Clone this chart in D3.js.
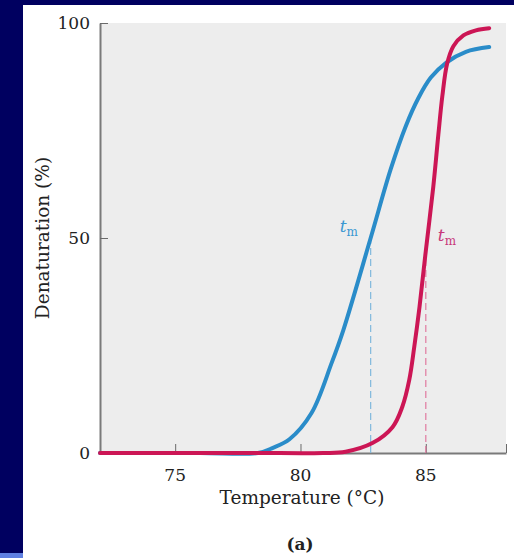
<!DOCTYPE html>
<html>
<head>
<meta charset="utf-8">
<script src="https://cdn.jsdelivr.net/npm/d3@7"></script>
<style>
  body { margin: 0; background: #000060; }
  svg { display: block; }
</style>
</head>
<body>
<div class="main"></div>
<script>
// temperature (°C) and denaturation (%)
var blueTemp = [72, 76, 78.3, 78.9, 79.56, 80.44, 81.24, 81.71, 82.8, 83.6, 84.2, 84.7, 85.2, 85.82, 86.6, 87.53];
var blueDen  = [0, 0, 0, 1.2, 3.2, 9.3, 20.9, 28.6, 50, 66, 76, 82.5, 87.3, 90.8, 93.3, 94.4];

var redTemp = [72, 78, 80.9, 81.8, 82.87, 83.67, 84.06, 84.34, 84.54, 84.75, 85.0, 85.3, 85.5, 85.66, 85.85, 86.1, 86.5, 87.0, 87.53];
var redDen  = [0, 0, 0, 0.3, 2.3, 6, 10.7, 17, 24.7, 34, 47, 62, 74, 83, 90.5, 94.6, 97.1, 98.3, 98.8];

var xTicks = [75, 80, 85];
var yTicks = [0, 50, 100];
var tmTemps = [82.8, 85.0];   // melting points (dashed lines)
var tmDen = [50, 48];

var W = 514, H = 558;
var blue = '#2a8cc9', red = '#cc1655';

var svg = d3.select('.main')
    .append('svg')
    .attr('width', W)
    .attr('height', H);

svg.append('rect').attr('x', 0).attr('y', 0).attr('width', W).attr('height', H).style('fill', '#000060');
svg.append('rect').attr('x', 0).attr('y', 553).attr('width', 23).attr('height', 5).style('fill', '#5f80e2');
svg.append('rect').attr('x', 23).attr('y', 5).attr('width', W - 23).attr('height', H - 5).style('fill', '#ffffff');

var x = d3.scaleLinear().domain([72, 88.2]).range([100, 506]);
var y = d3.scaleLinear().domain([0, 100]).range([453, 23]);

// plot background
svg.append('rect')
    .attr('x', x(72)).attr('y', y(100))
    .attr('width', x(88.2) - x(72)).attr('height', y(0) - y(100))
    .style('fill', '#ededed');

var serif = '"DejaVu Serif", "Liberation Serif", serif';

// axes
var g = svg.append('g');
var xAxis = d3.axisBottom(x).tickValues(xTicks.concat([88.2])).tickSize(-9).tickFormat('').tickSizeOuter(0);
g.append('g').attr('transform', 'translate(0,' + y(0) + ')').call(xAxis);
var yAxis = d3.axisLeft(y).tickValues(yTicks).tickSize(-8).tickFormat('').tickSizeOuter(0);
g.append('g').attr('transform', 'translate(' + x(72) + ',0)').call(yAxis);
g.selectAll('.domain').style('stroke', '#7a7a7a').style('stroke-width', 2);
g.selectAll('.tick line').style('stroke', '#6a6a6a').style('stroke-width', 1);

svg.selectAll('.xlab')
    .data(xTicks)
    .enter()
    .append('text')
    .attr('class', 'xlab')
    .attr('x', function (d) { return x(d); })
    .attr('y', 481)
    .attr('text-anchor', 'middle')
    .style('font-family', serif)
    .style('font-size', '17px')
    .style('fill', '#222')
    .text(function (d) { return d; });

svg.selectAll('.ylab')
    .data(yTicks)
    .enter()
    .append('text')
    .attr('class', 'ylab')
    .attr('x', 90)
    .attr('y', function (d) { return y(d) + 6; })
    .attr('text-anchor', 'end')
    .style('font-family', serif)
    .style('font-size', '17px')
    .style('fill', '#222')
    .text(function (d) { return d; });

svg.append('text')
    .attr('x', 302)
    .attr('y', 504)
    .attr('text-anchor', 'middle')
    .style('font-family', serif)
    .style('font-size', '18.5px')
    .style('fill', '#222')
    .text('Temperature (°C)');

svg.append('text')
    .attr('transform', 'translate(49,238) rotate(-90)')
    .attr('text-anchor', 'middle')
    .style('font-family', serif)
    .style('font-size', '18.5px')
    .style('fill', '#222')
    .text('Denaturation (%)');

svg.append('text')
    .attr('x', 300)
    .attr('y', 550)
    .attr('text-anchor', 'middle')
    .style('font-family', serif)
    .style('font-size', '17px')
    .style('font-weight', 'bold')
    .style('fill', '#222')
    .text('(a)');

// dashed tm lines
var dashCol = ['#7fb8dc', '#e07aa0'];
svg.selectAll('.tm')
    .data(tmTemps)
    .enter()
    .append('line')
    .attr('class', 'tm')
    .attr('x1', function (d) { return x(d); })
    .attr('x2', function (d) { return x(d); })
    .attr('y1', y(0))
    .attr('y2', function (d, i) { return y(tmDen[i]); })
    .style('stroke', function (d, i) { return dashCol[i]; })
    .style('stroke-width', 1.2)
    .style('stroke-dasharray', '7,4');

// curves
var line = d3.line()
    .x(function (d) { return x(d[0]); })
    .y(function (d) { return y(d[1]); })
    .curve(d3.curveCatmullRom.alpha(0.5));

var blueData = d3.zip(blueTemp, blueDen);
var redData = d3.zip(redTemp, redDen);

svg.append('path')
    .attr('d', line(blueData))
    .style('fill', 'none')
    .style('stroke', blue)
    .style('stroke-width', 4)
    .style('stroke-linecap', 'round');

svg.append('path')
    .attr('d', line(redData))
    .style('fill', 'none')
    .style('stroke', red)
    .style('stroke-width', 4)
    .style('stroke-linecap', 'round');

// tm labels
var tmLabels = [
    { t: 82.8, dx: -31, p: 52, col: '#3a98d2' },
    { t: 85.0, dx: 12, p: 50, col: '#c8387a' }
];
tmLabels.forEach(function (d) {
    var tx = svg.append('text')
        .attr('x', x(d.t) + d.dx)
        .attr('y', y(d.p) + 3)
        .style('font-family', serif)
        .style('font-size', '17px')
        .style('fill', d.col);
    tx.append('tspan').style('font-style', 'italic').text('t');
    tx.append('tspan').attr('dy', 4).style('font-size', '12px').text('m');
});
</script>
</body>
</html>
